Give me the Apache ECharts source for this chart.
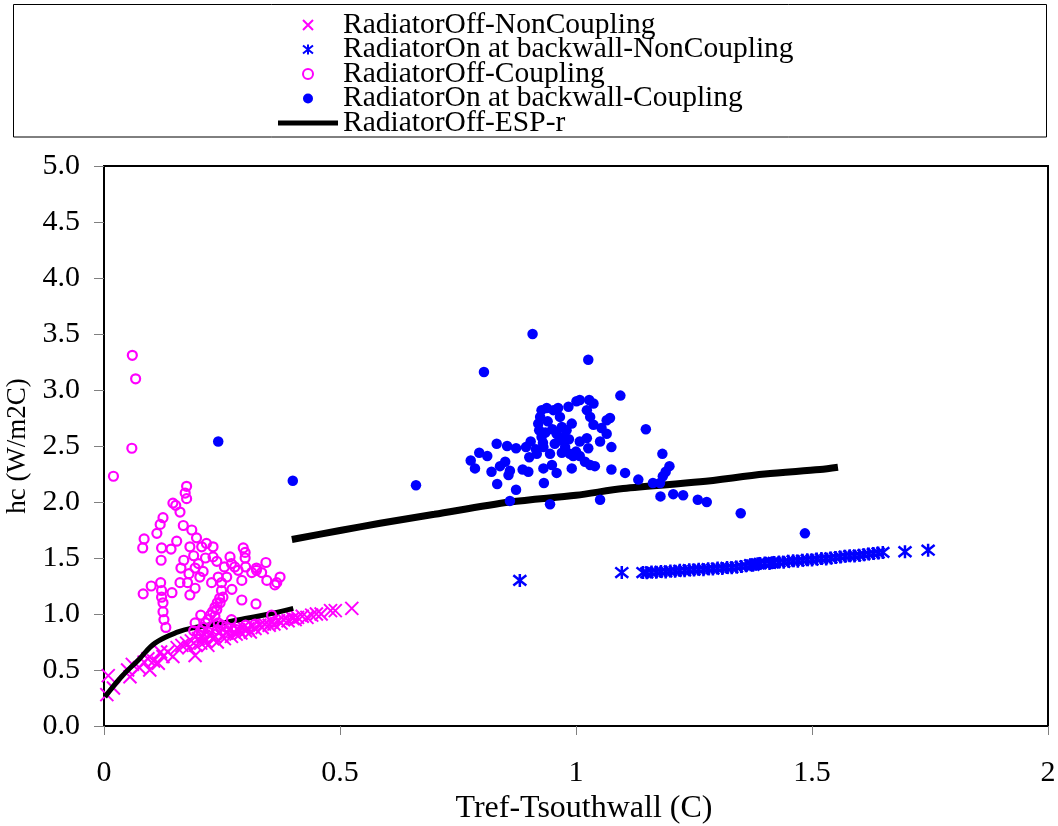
<!DOCTYPE html>
<html>
<head>
<meta charset="utf-8">
<script src="https://cdn.jsdelivr.net/npm/echarts@6.0.0/dist/echarts.min.js"></script>
<style>
html,body{margin:0;padding:0;background:#fff;}
#chart{width:1058px;height:826px;}
</style>
</head>
<body>
<div id="chart"></div>
<script>
// ---- Data ----
const seriesNames = [
  'RadiatorOff-NonCoupling',
  'RadiatorOn at backwall-NonCoupling',
  'RadiatorOff-Coupling',
  'RadiatorOn at backwall-Coupling',
  'RadiatorOff-ESP-r'
];
const xTicks = [0, 0.5, 1, 1.5, 2];
const yTicks = [0, 0.5, 1, 1.5, 2, 2.5, 3, 3.5, 4, 4.5, 5];

const offNonCoupling = [
  [0.006,0.28],[0.009,0.45],[0.02,0.34],[0.05,0.50],[0.055,0.44],[0.06,0.55],[0.075,0.52],
  [0.085,0.57],[0.093,0.60],[0.097,0.50],[0.105,0.58],[0.115,0.56],[0.12,0.66],[0.125,0.62],
  [0.135,0.66],[0.146,0.62],[0.155,0.70],[0.165,0.72],[0.175,0.74],[0.18,0.70],[0.185,0.76],
  [0.193,0.63],[0.195,0.72],[0.20,0.78],[0.205,0.74],[0.21,0.80],[0.215,0.76],[0.22,0.72],
  [0.225,0.82],[0.23,0.78],[0.235,0.80],[0.24,0.75],[0.245,0.84],[0.25,0.80],[0.255,0.78],
  [0.26,0.83],[0.265,0.86],[0.27,0.80],[0.275,0.84],[0.28,0.82],[0.285,0.86],[0.29,0.83],
  [0.295,0.88],[0.30,0.85],[0.305,0.87],[0.31,0.84],[0.315,0.89],[0.32,0.87],[0.33,0.90],
  [0.335,0.88],[0.34,0.91],[0.35,0.90],[0.355,0.93],[0.36,0.91],[0.37,0.94],[0.375,0.92],
  [0.38,0.95],[0.39,0.94],[0.40,0.96],[0.405,0.95],[0.41,0.97],[0.42,0.98],[0.43,0.97],
  [0.44,0.99],[0.45,1.00],[0.46,1.00],[0.48,1.03],[0.49,1.03],[0.525,1.05]
];

const onNonCoupling = [
  [0.881,1.30],[1.097,1.37],[1.142,1.37],[1.15,1.368],[1.16,1.375],[1.17,1.372],[1.18,1.380],
  [1.19,1.376],[1.20,1.385],[1.21,1.381],[1.22,1.390],[1.23,1.386],[1.24,1.395],[1.25,1.392],
  [1.26,1.400],[1.27,1.396],[1.28,1.405],[1.29,1.402],[1.30,1.410],[1.31,1.407],[1.32,1.415],
  [1.33,1.412],[1.34,1.420],[1.35,1.425],[1.36,1.430],[1.37,1.440],[1.375,1.435],[1.38,1.445],
  [1.385,1.448],[1.39,1.450],[1.40,1.455],[1.41,1.452],[1.415,1.458],[1.42,1.460],[1.43,1.465],
  [1.44,1.462],[1.45,1.470],[1.46,1.475],[1.47,1.472],[1.48,1.480],[1.49,1.485],[1.50,1.482],
  [1.51,1.490],[1.52,1.495],[1.53,1.492],[1.54,1.500],[1.55,1.505],[1.56,1.510],[1.57,1.515],
  [1.58,1.520],[1.59,1.518],[1.60,1.525],[1.61,1.530],[1.62,1.535],[1.63,1.540],[1.64,1.545],
  [1.65,1.550],[1.697,1.556],[1.746,1.57]
];

const offCoupling = [
  [0.060,3.31],[0.067,3.10],[0.059,2.48],[0.020,2.23],
  [0.175,2.14],[0.172,2.08],[0.175,2.03],[0.146,1.99],[0.152,1.97],[0.161,1.91],[0.168,1.79],
  [0.186,1.75],[0.125,1.86],[0.119,1.80],[0.112,1.72],[0.085,1.67],[0.082,1.59],[0.122,1.59],
  [0.142,1.58],[0.154,1.65],[0.182,1.60],[0.196,1.68],[0.121,1.48],[0.100,1.25],[0.083,1.18],
  [0.120,1.28],[0.122,1.21],[0.122,1.15],[0.125,1.10],[0.125,1.02],[0.127,0.95],[0.131,0.88],
  [0.144,1.19],[0.161,1.28],[0.163,1.41],[0.169,1.48],[0.177,1.28],[0.182,1.17],[0.193,1.23],
  [0.200,1.45],[0.193,1.41],[0.203,1.33],[0.207,1.60],[0.217,1.63],[0.231,1.60],[0.231,1.51],
  [0.228,1.28],[0.239,1.47],[0.242,1.33],[0.249,1.28],[0.260,1.33],[0.267,1.51],[0.270,1.45],
  [0.277,1.42],[0.284,1.39],[0.295,1.59],[0.299,1.50],[0.292,1.30],[0.292,1.125],[0.271,1.22],
  [0.252,1.15],[0.246,1.10],[0.239,1.04],[0.235,0.98],[0.242,0.92],[0.205,0.99],[0.193,0.92],
  [0.313,1.37],[0.323,1.41],[0.334,1.37],[0.343,1.46],[0.345,1.30],[0.362,1.26],[0.373,1.33],
  [0.322,1.09],[0.270,0.95],[0.355,0.99],[0.366,1.28],[0.323,1.39],[0.299,1.55],
  [0.205,0.85],[0.21,0.88],[0.215,0.92],[0.22,0.95],[0.225,0.99],[0.23,1.02],[0.235,1.06],
  [0.24,1.10],[0.245,1.14],[0.249,1.21],[0.20,0.82],[0.22,0.84],[0.24,0.86],[0.26,0.88],
  [0.28,0.86],[0.30,0.90],[0.32,0.91],[0.36,0.93],[0.40,0.96],[0.19,0.85],[0.25,0.90],
  [0.215,1.50],[0.19,1.52],[0.18,1.36],[0.21,1.38],[0.255,1.42],[0.30,1.42]
];

const onCoupling = [
  [0.242,2.54],[0.400,2.19],[0.661,2.15],[0.908,3.50],[0.805,3.16],[1.026,3.27],[1.094,2.95],
  [1.148,2.65],[1.183,2.43],[1.198,2.32],[1.190,2.27],[1.184,2.23],[1.178,2.17],[1.163,2.17],
  [1.179,2.05],[1.206,2.07],[1.227,2.06],[1.258,2.02],[1.277,2.00],[1.349,1.90],[1.485,1.72],
  [0.777,2.37],[0.786,2.30],[0.795,2.44],[0.812,2.41],[0.821,2.27],[0.832,2.52],[0.833,2.16],
  [0.839,2.32],[0.850,2.36],[0.857,2.24],[0.860,2.28],[0.854,2.50],[0.873,2.11],[0.860,2.01],
  [0.873,2.48],[0.887,2.29],[0.899,2.27],[0.894,2.49],[0.904,2.54],[0.901,2.40],[0.917,2.43],
  [0.931,2.30],[0.932,2.17],[0.945,1.98],[0.959,2.26],[0.949,2.33],[0.945,2.43],[0.931,2.49],
  [0.924,2.76],[0.927,2.82],[0.938,2.84],[0.920,2.70],[0.922,2.64],[0.927,2.58],[0.952,2.82],
  [0.962,2.84],[0.966,2.76],[0.970,2.67],[0.959,2.61],[0.973,2.58],[0.980,2.64],[0.984,2.85],
  [0.991,2.70],[0.977,2.49],[0.987,2.43],[0.970,2.44],[1.001,2.90],[1.008,2.91],[1.028,2.91],
  [1.037,2.88],[1.023,2.82],[1.030,2.76],[1.037,2.69],[1.023,2.57],[1.008,2.54],[1.026,2.48],
  [1.000,2.45],[0.994,2.41],[1.008,2.41],[1.019,2.36],[1.030,2.33],[1.040,2.32],[0.991,2.30],
  [1.051,2.54],[1.054,2.66],[1.065,2.73],[1.072,2.75],[1.065,2.61],[1.075,2.49],[1.075,2.29],
  [1.104,2.26],[1.132,2.20],[1.051,2.02],[0.935,2.62],[0.940,2.72],[0.955,2.52],[0.965,2.55],
  [0.950,2.65],[0.985,2.56],[0.930,2.53],[0.915,2.47]
];

const espOffLine = [
  [0.002,0.26],[0.037,0.44],[0.073,0.59],[0.108,0.74],[0.157,0.84],[0.193,0.88],
  [0.263,0.93],[0.299,0.96],[0.35,1.00],[0.401,1.05]
];
const espOnLine = [
  [0.398,1.665],[0.50,1.745],[0.585,1.81],[0.70,1.89],[0.86,2.00],[1.00,2.06],
  [1.10,2.12],[1.263,2.18],[1.40,2.25],[1.517,2.29],[1.555,2.31]
];

// ---- Chart ----
const FONT = 'Liberation Serif';
const MAG = '#FF00FF';
const BLUE = '#0000FF';
const crossPath = 'path://M0,0L10,10M10,0L0,10';
const starPath = 'path://M0,1L10,9M10,1L0,9M5,0L5,10';
const lineIcon = 'path://M0,0L60,0L60,5L0,5Z';

const chart = echarts.init(document.getElementById('chart'), null, {renderer: 'canvas'});
const option = {
  animation: false,
  backgroundColor: '#fff',
  graphic: [{
    type: 'rect',
    shape: {x: 13.5, y: 4.5, width: 1033, height: 132.5},
    style: {fill: 'none', stroke: '#000', lineWidth: 1},
    silent: true, z: -1
  }],
  legend: {
    data: [
      {name: seriesNames[0]},
      {name: seriesNames[1]},
      {name: seriesNames[2]},
      {name: seriesNames[3]},
      {name: seriesNames[4], icon: lineIcon}
    ],
    orient: 'vertical',
    left: 278,
    top: 10,
    padding: 0,
    itemGap: -5.5,
    itemWidth: 60,
    itemHeight: 10,
    selectedMode: false,
    textStyle: {fontFamily: FONT, fontSize: 29.5, color: '#000'}
  },
  grid: {
    left: 104, right: 10, top: 166, bottom: 100,
    outerBoundsMode: 'none',
    show: true, borderColor: '#000', borderWidth: 2, backgroundColor: 'transparent'
  },
  xAxis: {
    type: 'value', min: 0, max: 2, interval: 0.5,
    name: 'Tref-Tsouthwall (C)', nameLocation: 'middle', nameGap: 60,
    nameTextStyle: {fontFamily: FONT, fontSize: 32, color: '#000', padding: [0, 0, 0, 16]},
    axisLine: {show: true, onZero: false, lineStyle: {color: '#000', width: 2}},
    axisTick: {show: true, inside: false, length: 9, lineStyle: {color: '#808080', width: 1}},
    axisLabel: {fontFamily: FONT, fontSize: 30, color: '#000', margin: 32,
      formatter: v => xTicks.includes(v) ? String(v) : ''},
    splitLine: {show: false}
  },
  yAxis: {
    type: 'value', min: 0, max: 5, interval: 0.5,
    name: 'hc (W/m2C)', nameLocation: 'middle', nameGap: 68, nameRotate: 90,
    nameTextStyle: {fontFamily: FONT, fontSize: 27, color: '#000'},
    axisLine: {show: true, onZero: false, lineStyle: {color: '#000', width: 2}},
    axisTick: {show: true, inside: false, length: 10, lineStyle: {color: '#808080', width: 1}},
    axisLabel: {fontFamily: FONT, fontSize: 30, color: '#000', margin: 24,
      formatter: v => yTicks.includes(v) ? v.toFixed(1) : ''},
    splitLine: {show: false}
  },
  series: [
    {
      name: seriesNames[4], type: 'line', data: espOffLine, smooth: 0.4,
      symbol: 'none', lineStyle: {color: '#000', width: 5}, itemStyle: {color: '#000'}, z: 3
    },
    {
      name: 'RadiatorOn-ESP-r', type: 'line', data: espOnLine, smooth: 0.3,
      symbol: 'none', lineStyle: {color: '#000', width: 7}, itemStyle: {color: '#000'}, z: 3
    },
    {
      name: seriesNames[0], type: 'scatter', data: offNonCoupling,
      symbol: crossPath, symbolSize: 13, symbolKeepAspect: true,
      itemStyle: {color: 'rgba(0,0,0,0)', borderColor: MAG, borderWidth: 2, opacity: 1}, z: 2
    },
    {
      name: seriesNames[1], type: 'scatter', data: onNonCoupling,
      symbol: starPath, symbolSize: 13, symbolKeepAspect: true,
      itemStyle: {color: 'rgba(0,0,0,0)', borderColor: BLUE, borderWidth: 2.5, opacity: 1}, z: 2
    },
    {
      name: seriesNames[2], type: 'scatter', data: offCoupling,
      symbol: 'circle', symbolSize: 9,
      itemStyle: {color: 'rgba(0,0,0,0)', borderColor: MAG, borderWidth: 2.2, opacity: 1}, z: 4
    },
    {
      name: seriesNames[3], type: 'scatter', data: onCoupling,
      symbol: 'circle', symbolSize: 10.5,
      itemStyle: {color: BLUE, borderWidth: 0, opacity: 1}, z: 4
    }
  ]
};
chart.setOption(option);
</script>
</body>
</html>
